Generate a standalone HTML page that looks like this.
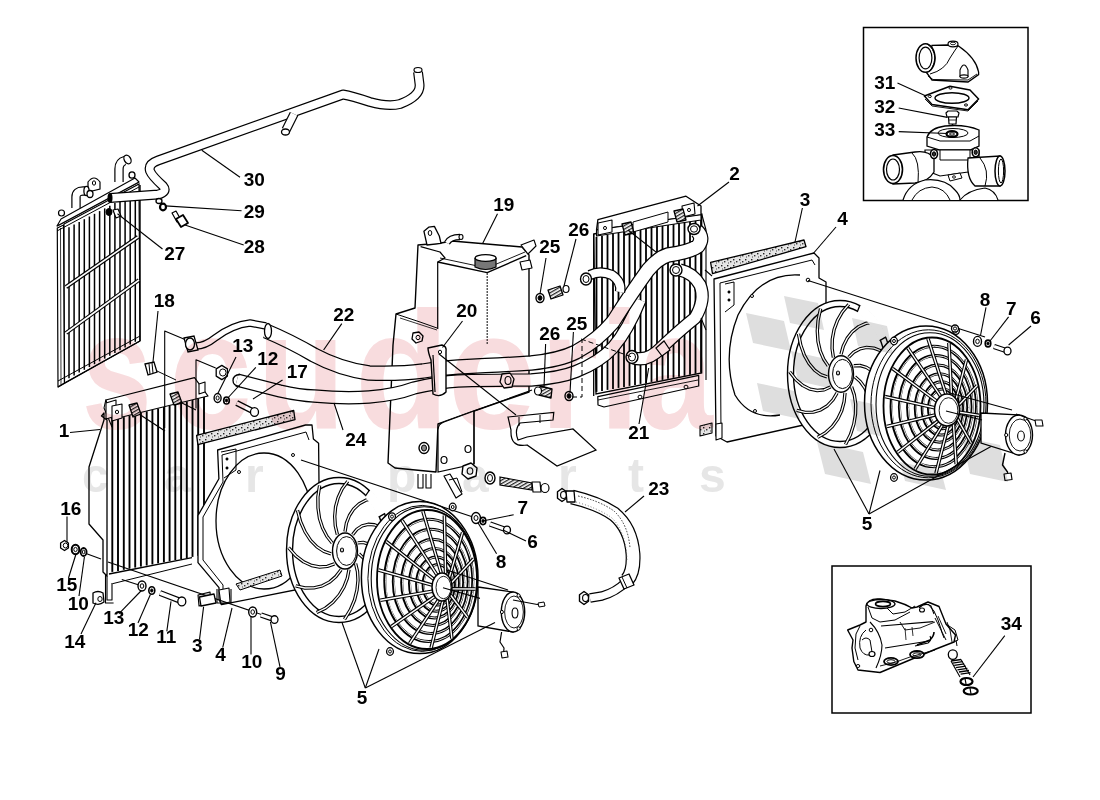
<!DOCTYPE html>
<html><head><meta charset="utf-8"><style>
html,body{margin:0;padding:0;background:#fff;}
#c{position:relative;width:1100px;height:800px;overflow:hidden;background:#fff;}
svg{position:absolute;left:0;top:0;}
.lb text{font-family:"Liberation Sans",sans-serif;font-weight:bold;font-size:19px;fill:#000;}
.wm{mix-blend-mode:multiply;}
.wm text{font-family:"Liberation Sans",sans-serif;font-weight:bold;}
</style></head><body><div id="c">
<svg width="1100" height="800" viewBox="0 0 1100 800">
<polygon points="57.3,228 63.6,225 64.5,383 58,387" fill="#fff" stroke="#000" stroke-width="1.2" stroke-linejoin="round" />
<line x1="60.5" y1="228" x2="61" y2="385" stroke="#000" stroke-width="0.8"/>
<polygon points="64,224 139,184 140,341 64.5,383" fill="#fff" stroke="#000" stroke-width="1.2"/>
<line x1="69.0" y1="227.3" x2="69.0" y2="378.2" stroke="#000" stroke-width="1.5"/>
<line x1="74.1" y1="224.6" x2="74.1" y2="375.4" stroke="#000" stroke-width="1.5"/>
<line x1="79.2" y1="221.9" x2="79.2" y2="372.6" stroke="#000" stroke-width="1.5"/>
<line x1="84.3" y1="219.2" x2="84.3" y2="369.8" stroke="#000" stroke-width="1.5"/>
<line x1="89.4" y1="216.5" x2="89.4" y2="367.0" stroke="#000" stroke-width="1.5"/>
<line x1="94.5" y1="213.8" x2="94.5" y2="364.2" stroke="#000" stroke-width="1.5"/>
<line x1="99.6" y1="211.1" x2="99.6" y2="361.4" stroke="#000" stroke-width="1.5"/>
<line x1="104.7" y1="208.4" x2="104.7" y2="358.6" stroke="#000" stroke-width="1.5"/>
<line x1="109.8" y1="205.7" x2="109.8" y2="355.8" stroke="#000" stroke-width="1.5"/>
<line x1="114.9" y1="203.0" x2="114.9" y2="353.0" stroke="#000" stroke-width="1.5"/>
<line x1="120.0" y1="200.3" x2="120.0" y2="350.2" stroke="#000" stroke-width="1.5"/>
<line x1="125.1" y1="197.6" x2="125.1" y2="347.4" stroke="#000" stroke-width="1.5"/>
<line x1="130.2" y1="194.9" x2="130.2" y2="344.6" stroke="#000" stroke-width="1.5"/>
<line x1="135.3" y1="192.2" x2="135.3" y2="341.8" stroke="#000" stroke-width="1.5"/>
<line x1="140" y1="185" x2="140" y2="341" stroke="#000" stroke-width="1.4"/>
<polyline points="57,226 139,182" fill="none" stroke="#000" stroke-width="1.3" stroke-linejoin="round"/>
<polyline points="57,231 139,187" fill="none" stroke="#000" stroke-width="1.0" stroke-linejoin="round"/>
<polygon points="57,226 61,219 135,178 139,182" fill="#fff" stroke="#000" stroke-width="1.1" stroke-linejoin="round" />
<path d="M 66 287 L 138 237" fill="none" stroke="#000" stroke-width="4.0" stroke-linecap="butt" stroke-linejoin="round" />
<path d="M 66 287 L 138 237" fill="none" stroke="#fff" stroke-width="1.6" stroke-linecap="butt" stroke-linejoin="round"/>
<path d="M 66 333 L 139 280" fill="none" stroke="#000" stroke-width="4.0" stroke-linecap="butt" stroke-linejoin="round" />
<path d="M 66 333 L 139 280" fill="none" stroke="#fff" stroke-width="1.6" stroke-linecap="butt" stroke-linejoin="round"/>
<polyline points="58,387 140,341" fill="none" stroke="#000" stroke-width="1.3" stroke-linejoin="round"/>
<polyline points="58,381 140,336" fill="none" stroke="#000" stroke-width="1.0" stroke-linejoin="round"/>
<path d="M 88 192 L 88 182 Q 94 174 100 182 L 100 189 Z" fill="#fff" stroke="#000" stroke-width="1.2"/>
<ellipse cx="94" cy="183" rx="1.6" ry="2.2" fill="#fff" stroke="#000" stroke-width="1"/>
<path d="M 76 208 L 76 197 Q 76 191 83 191 L 86 191" fill="none" stroke="#000" stroke-width="9.4" stroke-linecap="butt" stroke-linejoin="round" />
<path d="M 76 208 L 76 197 Q 76 191 83 191 L 86 191" fill="none" stroke="#fff" stroke-width="7" stroke-linecap="butt" stroke-linejoin="round"/>
<ellipse cx="86.5" cy="191" rx="2.6" ry="4.6" fill="#fff" stroke="#000" stroke-width="1.3"/>
<ellipse cx="90" cy="194" rx="3" ry="3.5" fill="#fff" stroke="#000" stroke-width="1.3"/>
<path d="M 119 182 L 119 169 Q 119 162 125 160.5" fill="none" stroke="#000" stroke-width="9.4" stroke-linecap="butt" stroke-linejoin="round" />
<path d="M 119 182 L 119 169 Q 119 162 125 160.5" fill="none" stroke="#fff" stroke-width="7" stroke-linecap="butt" stroke-linejoin="round"/>
<ellipse cx="127.5" cy="159.5" rx="3.2" ry="4.6" fill="#fff" stroke="#000" stroke-width="1.3" transform="rotate(-30 127.5 159.5)"/>
<ellipse cx="132" cy="175" rx="3" ry="3.2" fill="#fff" stroke="#000" stroke-width="1.3"/>
<ellipse cx="61.5" cy="213" rx="3" ry="3" fill="#fff" stroke="#000" stroke-width="1.2"/>
<path d="M 418 72 L 419.5 84 Q 421 96 400 104 Q 388 107 370 102 Q 352 96 343 94.5 L 158 160.5 Q 148 164 150 171 Q 152 176 163 186 Q 168 192 158 194.5 L 110 198" fill="none" stroke="#000" stroke-width="9.9" stroke-linecap="butt" stroke-linejoin="round" />
<path d="M 418 72 L 419.5 84 Q 421 96 400 104 Q 388 107 370 102 Q 352 96 343 94.5 L 158 160.5 Q 148 164 150 171 Q 152 176 163 186 Q 168 192 158 194.5 L 110 198" fill="none" stroke="#fff" stroke-width="7.5" stroke-linecap="butt" stroke-linejoin="round"/>
<path d="M 294 114 L 286 130" fill="none" stroke="#000" stroke-width="9.4" stroke-linecap="butt" stroke-linejoin="round" />
<path d="M 294 114 L 286 130" fill="none" stroke="#fff" stroke-width="7" stroke-linecap="butt" stroke-linejoin="round"/>
<ellipse cx="285.5" cy="132" rx="4" ry="3" fill="#fff" stroke="#000" stroke-width="1.3"/>
<ellipse cx="418" cy="70" rx="4" ry="2.5" fill="#fff" stroke="#000" stroke-width="1.2"/>
<ellipse cx="110" cy="198" rx="2.5" ry="5" fill="#000"/>
<ellipse cx="163" cy="207" rx="3" ry="3.3" fill="#fff" stroke="#000" stroke-width="2.2"/>
<ellipse cx="159" cy="201" rx="3" ry="2.5" fill="#fff" stroke="#000" stroke-width="1.3"/>
<polygon points="172,213 176,211 181,220 177,222" fill="#fff" stroke="#000" stroke-width="1.2" stroke-linejoin="round" />
<polygon points="176,219 183,215 188,223 181,227" fill="#fff" stroke="#000" stroke-width="1.8" stroke-linejoin="round" />
<ellipse cx="109" cy="212" rx="3" ry="3.5" fill="#000" stroke="#000" stroke-width="1"/>
<polygon points="113,210 118,209 121,216 116,218" fill="#fff" stroke="#000" stroke-width="1.2" stroke-linejoin="round" />
<polygon points="101.5,416 104,413 104,420 89,467 89,524 103,540 103,572 107,576 107,420" fill="#fff" stroke="#000" stroke-width="1.3" stroke-linejoin="round" />
<polygon points="112,420 208,396 208,554 112,572" fill="#fff" stroke="none"/>
<line x1="112.3" y1="419.9" x2="112.3" y2="571.9" stroke="#000" stroke-width="1.9"/>
<line x1="118.0" y1="418.5" x2="118.0" y2="570.9" stroke="#000" stroke-width="1.9"/>
<line x1="123.8" y1="417.1" x2="123.8" y2="569.8" stroke="#000" stroke-width="1.9"/>
<line x1="129.5" y1="415.6" x2="129.5" y2="568.7" stroke="#000" stroke-width="1.9"/>
<line x1="135.2" y1="414.2" x2="135.2" y2="567.6" stroke="#000" stroke-width="1.9"/>
<line x1="140.9" y1="412.8" x2="140.9" y2="566.6" stroke="#000" stroke-width="1.9"/>
<line x1="146.7" y1="411.3" x2="146.7" y2="565.5" stroke="#000" stroke-width="1.9"/>
<line x1="152.4" y1="409.9" x2="152.4" y2="564.4" stroke="#000" stroke-width="1.9"/>
<line x1="158.1" y1="408.5" x2="158.1" y2="563.3" stroke="#000" stroke-width="1.9"/>
<line x1="163.9" y1="407.0" x2="163.9" y2="562.3" stroke="#000" stroke-width="1.9"/>
<line x1="169.6" y1="405.6" x2="169.6" y2="561.2" stroke="#000" stroke-width="1.9"/>
<line x1="175.3" y1="404.2" x2="175.3" y2="560.1" stroke="#000" stroke-width="1.9"/>
<line x1="181.1" y1="402.7" x2="181.1" y2="559.1" stroke="#000" stroke-width="1.9"/>
<line x1="186.8" y1="401.3" x2="186.8" y2="558.0" stroke="#000" stroke-width="1.9"/>
<line x1="192.5" y1="399.9" x2="192.5" y2="556.9" stroke="#000" stroke-width="1.9"/>
<line x1="198.2" y1="398.4" x2="198.2" y2="555.8" stroke="#000" stroke-width="1.9"/>
<line x1="204.0" y1="397.0" x2="204.0" y2="554.8" stroke="#000" stroke-width="1.9"/>
<polyline points="109,574 192,557.7" fill="none" stroke="#000" stroke-width="1.3" stroke-linejoin="round"/>
<polyline points="112.5,583.7 192,564" fill="none" stroke="#000" stroke-width="1.0" stroke-linejoin="round"/>
<polyline points="107,576 107,600 112,600 112,583" fill="none" stroke="#000" stroke-width="1.1" stroke-linejoin="round"/>
<polygon points="105.8,400 194.5,377.6 208,396 112,419.5" fill="#fff" stroke="#000" stroke-width="1.2" stroke-linejoin="round" />
<polygon points="105.8,400 104,408 112,427 112,419.5" fill="#fff" stroke="#000" stroke-width="1.1" stroke-linejoin="round" />
<line x1="112" y1="419.5" x2="112" y2="427" stroke="#000" stroke-width="1.1"/>
<polygon points="106,403 116,400 116,416 106,419" fill="#fff" stroke="#000" stroke-width="1.1" stroke-linejoin="round" />
<polygon points="112,406 122,404 122,418 112,421" fill="#fff" stroke="#000" stroke-width="1.1" stroke-linejoin="round" />
<ellipse cx="117" cy="412" rx="1.6" ry="1.8" fill="#fff" stroke="#000" stroke-width="1"/>
<polygon points="199,384 205,382 205,392 199,394" fill="#fff" stroke="#000" stroke-width="1.1" stroke-linejoin="round" />
<polygon points="129,405 137,403 141,414 133,417" fill="url(#thr)" stroke="#000" stroke-width="1.3" stroke-linejoin="round" />
<polygon points="170,394 178,392 182,403 174,405" fill="url(#thr)" stroke="#000" stroke-width="1.3" stroke-linejoin="round" />
<line x1="139" y1="414" x2="165" y2="431" stroke="#000" stroke-width="1.2"/>
<line x1="180" y1="402" x2="196" y2="410" stroke="#000" stroke-width="1.2"/>
<defs><pattern id="thr" width="3" height="3" patternUnits="userSpaceOnUse" patternTransform="rotate(-30)"><rect width="3" height="3" fill="#fff"/><rect width="3" height="1.3" fill="#222"/></pattern></defs>
<defs><pattern id="spk" width="6" height="6" patternUnits="userSpaceOnUse"><rect width="6" height="6" fill="#e4e4e4"/><rect x="1" y="1" width="1.4" height="1.4" fill="#222"/><rect x="4" y="3" width="1.4" height="1.4" fill="#333"/><rect x="2" y="4.5" width="1" height="1" fill="#444"/></pattern></defs>
<polygon points="196.6,435.4 293.7,410.5 295,419.7 197.9,444.6" fill="url(#spk)" stroke="#000" stroke-width="1.3" stroke-linejoin="round" />
<polygon points="198,595 210,592 211,603 199,606" fill="#ccc" stroke="#000" stroke-width="1.1" stroke-linejoin="round" />
<polygon points="217.6,450 305.5,425 312,425 313.4,439 318.6,443.3 320,585 221.5,604.7 219,599.5 219,587.7 198,562.7 198,515.5 218.9,478.7" fill="#fff" stroke="#000" stroke-width="1.3" stroke-linejoin="round" />
<polyline points="222,455 306,432 309,440" fill="none" stroke="#000" stroke-width="1.0" stroke-linejoin="round"/>
<polyline points="222,455 223,482 203,517 203,560 223,585 223,598" fill="none" stroke="#000" stroke-width="1.0" stroke-linejoin="round"/>
<ellipse cx="264" cy="521" rx="48" ry="68" fill="#fff" stroke="#000" stroke-width="1.3"/>
<path d="M 221 452 L 236 449 L 236 470 L 224 478" fill="none" stroke="#000" stroke-width="1"/>
<ellipse cx="227" cy="459" rx="1.2" ry="1.2" fill="#000" stroke="#000" stroke-width="0.6"/>
<ellipse cx="227" cy="468" rx="1.2" ry="1.2" fill="#000" stroke="#000" stroke-width="0.6"/>
<ellipse cx="239" cy="472" rx="1.5" ry="1.5" fill="#fff" stroke="#000" stroke-width="1"/>
<ellipse cx="293" cy="455" rx="1.5" ry="1.5" fill="#fff" stroke="#000" stroke-width="1"/>
<polygon points="236,584 280,570 282,576 240,590" fill="url(#spk)" stroke="#000" stroke-width="1" stroke-linejoin="round" />
<polygon points="219,590 229,588 230,602 221,604" fill="#fff" stroke="#000" stroke-width="1.1" stroke-linejoin="round" />
<polygon points="593.7,234 701.7,214 701.7,373 596,394" fill="#fff" stroke="#000" stroke-width="1.3"/>
<line x1="596.5" y1="236.9" x2="596.5" y2="391.9" stroke="#000" stroke-width="1.8"/>
<line x1="602.0" y1="235.9" x2="602.0" y2="390.9" stroke="#000" stroke-width="1.8"/>
<line x1="607.5" y1="234.8" x2="607.5" y2="389.9" stroke="#000" stroke-width="1.8"/>
<line x1="613.0" y1="233.8" x2="613.0" y2="388.9" stroke="#000" stroke-width="1.8"/>
<line x1="618.5" y1="232.8" x2="618.5" y2="387.9" stroke="#000" stroke-width="1.8"/>
<line x1="624.0" y1="231.8" x2="624.0" y2="386.9" stroke="#000" stroke-width="1.8"/>
<line x1="629.5" y1="230.7" x2="629.5" y2="385.9" stroke="#000" stroke-width="1.8"/>
<line x1="635.0" y1="229.7" x2="635.0" y2="384.9" stroke="#000" stroke-width="1.8"/>
<line x1="640.5" y1="228.7" x2="640.5" y2="383.9" stroke="#000" stroke-width="1.8"/>
<line x1="646.0" y1="227.6" x2="646.0" y2="382.9" stroke="#000" stroke-width="1.8"/>
<line x1="651.5" y1="226.6" x2="651.5" y2="381.9" stroke="#000" stroke-width="1.8"/>
<line x1="657.0" y1="225.6" x2="657.0" y2="380.9" stroke="#000" stroke-width="1.8"/>
<line x1="662.5" y1="224.5" x2="662.5" y2="379.9" stroke="#000" stroke-width="1.8"/>
<line x1="668.0" y1="223.5" x2="668.0" y2="378.8" stroke="#000" stroke-width="1.8"/>
<line x1="673.5" y1="222.5" x2="673.5" y2="377.8" stroke="#000" stroke-width="1.8"/>
<line x1="679.0" y1="221.4" x2="679.0" y2="376.8" stroke="#000" stroke-width="1.8"/>
<line x1="684.5" y1="220.4" x2="684.5" y2="375.8" stroke="#000" stroke-width="1.8"/>
<line x1="690.0" y1="219.4" x2="690.0" y2="374.8" stroke="#000" stroke-width="1.8"/>
<line x1="695.5" y1="218.3" x2="695.5" y2="373.8" stroke="#000" stroke-width="1.8"/>
<line x1="701.0" y1="217.3" x2="701.0" y2="372.8" stroke="#000" stroke-width="1.8"/>
<polyline points="593.7,234 593.7,396" fill="none" stroke="#000" stroke-width="1.3" stroke-linejoin="round"/>
<polygon points="597.8,396.6 698.7,375.4 698.7,386 604,407 598,405" fill="#fff" stroke="#000" stroke-width="1.2" stroke-linejoin="round" />
<polyline points="598,400 698,380" fill="none" stroke="#000" stroke-width="0.9" stroke-linejoin="round"/>
<ellipse cx="640" cy="397" rx="2" ry="1.8" fill="#fff" stroke="#000" stroke-width="1"/>
<ellipse cx="686" cy="387" rx="2" ry="1.8" fill="#fff" stroke="#000" stroke-width="1"/>
<polygon points="597.9,219.6 686,196.2 701,206 701,214.8 596.5,230" fill="#fff" stroke="#000" stroke-width="1.3" stroke-linejoin="round" />
<polygon points="596.5,230 596.5,236 701,220 701,214.8" fill="#fff" stroke="#000" stroke-width="1.1" stroke-linejoin="round" />
<polygon points="633,222 668,212 668,222 633,232" fill="#fff" stroke="#000" stroke-width="1.0" stroke-linejoin="round" />
<polygon points="598,223 612,220 612,232 598,235" fill="#fff" stroke="#000" stroke-width="1.1" stroke-linejoin="round" />
<ellipse cx="605" cy="228" rx="1.5" ry="1.6" fill="#fff" stroke="#000" stroke-width="1"/>
<polygon points="682,206 694,203 695,214 683,217" fill="#fff" stroke="#000" stroke-width="1.1" stroke-linejoin="round" />
<ellipse cx="689" cy="210" rx="1.5" ry="1.6" fill="#fff" stroke="#000" stroke-width="1"/>
<polygon points="622,224 631,222 634,233 625,235" fill="url(#thr)" stroke="#000" stroke-width="1.3" stroke-linejoin="round" />
<polygon points="674,211 683,209 686,220 677,222" fill="url(#thr)" stroke="#000" stroke-width="1.3" stroke-linejoin="round" />
<line x1="628" y1="230" x2="668" y2="261.5" stroke="#000" stroke-width="1.1"/>
<polyline points="701.7,214 706,230 706,380" fill="none" stroke="#000" stroke-width="1.1" stroke-linejoin="round"/>
<polygon points="418,245 415,308 396,314 393,345 388,463 395,468 436,472 438,424 474,411 529,392 529,255 522,247 452,241 441,243" fill="#fff" stroke="#000" stroke-width="1.4" stroke-linejoin="round" />
<polygon points="423.9,231.2 428.7,227.2 434.4,226.4 439.3,236 441,243.4 427,245" fill="#fff" stroke="#000" stroke-width="1.3" stroke-linejoin="round" />
<ellipse cx="430" cy="233" rx="1.8" ry="2.5" fill="#fff" stroke="#000" stroke-width="1"/>
<polyline points="420.6,246.7 440,252 445,258 437.7,262 437.7,329" fill="none" stroke="#000" stroke-width="1.2" stroke-linejoin="round"/>
<polyline points="437.7,262 487.2,272.7 526.2,255.6" fill="none" stroke="#000" stroke-width="1.3" stroke-linejoin="round"/>
<polyline points="440,258 487,268 525,252" fill="none" stroke="#000" stroke-width="0.9" stroke-linejoin="round"/>
<line x1="487.2" y1="273" x2="487.2" y2="345" stroke="#333" stroke-width="1.2" stroke-dasharray="2,1"/>
<path d="M 475 258 L 475 267 Q 485.6 272 496 267 L 496 258" fill="#777" stroke="#000" stroke-width="1.2"/>
<ellipse cx="485.6" cy="258" rx="10.5" ry="3.4" fill="#fff" stroke="#000" stroke-width="1.3"/>
<path d="M 447 243 Q 450 237 460 237" fill="none" stroke="#000" stroke-width="6.4" stroke-linecap="butt" stroke-linejoin="round" />
<path d="M 447 243 Q 450 237 460 237" fill="none" stroke="#fff" stroke-width="4" stroke-linecap="butt" stroke-linejoin="round"/>
<ellipse cx="461" cy="237" rx="2" ry="2.5" fill="#fff" stroke="#000" stroke-width="1.1"/>
<polygon points="520,262 530,260 532,268 522,270" fill="#fff" stroke="#000" stroke-width="1.1" stroke-linejoin="round" />
<polygon points="521,245 534,240 536,246 528,254" fill="#fff" stroke="#000" stroke-width="1.1" stroke-linejoin="round" />
<polyline points="396,314 420,322 437,328" fill="none" stroke="#000" stroke-width="1.0" stroke-linejoin="round"/>
<polyline points="400,318 437,330" fill="none" stroke="#000" stroke-width="0.8" stroke-linejoin="round"/>
<path d="M 438 472 L 438 430 Q 438 424 444 422 L 474 411 L 474 464 Z" fill="#fff" stroke="#000" stroke-width="1.2"/>
<line x1="474" y1="411" x2="474" y2="464" stroke="#000" stroke-width="1.2"/>
<polyline points="474,411 532,390" fill="none" stroke="#000" stroke-width="1.1" stroke-linejoin="round"/>
<ellipse cx="424" cy="448" rx="5" ry="5.5" fill="#fff" stroke="#000" stroke-width="1.4"/>
<ellipse cx="424" cy="448" rx="2.5" ry="3" fill="#888" stroke="#000" stroke-width="1"/>
<ellipse cx="468" cy="449" rx="3" ry="3.5" fill="#fff" stroke="#000" stroke-width="1.2"/>
<ellipse cx="444" cy="460" rx="3" ry="3.5" fill="#fff" stroke="#000" stroke-width="1.2"/>
<polygon points="413,333 419,332 423,336 422,341 416,343 412,339" fill="#fff" stroke="#000" stroke-width="1.3" stroke-linejoin="round" />
<ellipse cx="418" cy="337.5" rx="2" ry="2.2" fill="#fff" stroke="#000" stroke-width="1"/>
<polyline points="418,474 418,488 423,488 423,474" fill="none" stroke="#000" stroke-width="1.1" stroke-linejoin="round"/>
<polyline points="426,474 426,488 431,488 431,474" fill="none" stroke="#000" stroke-width="1.1" stroke-linejoin="round"/>
<polygon points="444,476 450,474 462,494 456,498" fill="#fff" stroke="#000" stroke-width="1.2" stroke-linejoin="round" />
<polyline points="449,480 457,478 462,492" fill="none" stroke="#000" stroke-width="1" stroke-linejoin="round"/>
<polygon points="463,466 471,463 477,468 476,476 468,479 462,474" fill="#fff" stroke="#000" stroke-width="1.4" stroke-linejoin="round" />
<ellipse cx="470" cy="471" rx="2.8" ry="3.3" fill="#fff" stroke="#000" stroke-width="1.1"/>
<ellipse cx="490" cy="478" rx="5" ry="6" fill="#fff" stroke="#000" stroke-width="1.4"/>
<ellipse cx="490" cy="478" rx="2.5" ry="3.5" fill="#fff" stroke="#000" stroke-width="1"/>
<polygon points="500,477 532,483 532,490 500,485" fill="url(#thr)" stroke="#000" stroke-width="1.2"/>
<polygon points="532,482 540,482 541,492 533,492" fill="#fff" stroke="#000" stroke-width="1.2" stroke-linejoin="round" />
<ellipse cx="545" cy="488" rx="4" ry="4.5" fill="#fff" stroke="#000" stroke-width="1.2"/>
<path d="M 237 380 L 280 391 Q 300 395.5 314 396 Q 345 399 369 397 Q 395 395 414 388 Q 440 382 458 381 Q 500 380 531 380 Q 560 378 576 371.5 Q 600 362 613 347.5 Q 628 330 640 300" fill="none" stroke="#000" stroke-width="13.4" stroke-linecap="butt" stroke-linejoin="round" />
<path d="M 237 380 L 280 391 Q 300 395.5 314 396 Q 345 399 369 397 Q 395 395 414 388 Q 440 382 458 381 Q 500 380 531 380 Q 560 378 576 371.5 Q 600 362 613 347.5 Q 628 330 640 300" fill="none" stroke="#fff" stroke-width="11" stroke-linecap="butt" stroke-linejoin="round"/>
<path d="M 240 374.5 Q 233 375 233 380.5 Q 233 386 240 386.5" fill="none" stroke="#000" stroke-width="1.3"/>
<path d="M 196 346 Q 205 346 215 338 Q 232 325 250 323 L 266 326" fill="none" stroke="#000" stroke-width="7.4" stroke-linecap="butt" stroke-linejoin="round" />
<path d="M 196 346 Q 205 346 215 338 Q 232 325 250 323 L 266 326" fill="none" stroke="#fff" stroke-width="5" stroke-linecap="butt" stroke-linejoin="round"/>
<polygon points="184,338 194,336 198,350 188,352" fill="#fff" stroke="#000" stroke-width="1.3"/>
<ellipse cx="190" cy="344" rx="4.5" ry="6" fill="#fff" stroke="#000" stroke-width="1.3"/>
<path d="M 266 331 Q 290 341 314 355 Q 340 369 369 373 Q 400 374 423 371 Q 440 368 458 367 Q 500 365 531 363 Q 560 360 576 352 Q 598 340 613 322 Q 632 292 648 270 Q 658 258 668 255 Q 690 252 698 246 Q 704 238 697 231" fill="none" stroke="#000" stroke-width="15.4" stroke-linecap="butt" stroke-linejoin="round" />
<path d="M 266 331 Q 290 341 314 355 Q 340 369 369 373 Q 400 374 423 371 Q 440 368 458 367 Q 500 365 531 363 Q 560 360 576 352 Q 598 340 613 322 Q 632 292 648 270 Q 658 258 668 255 Q 690 252 698 246 Q 704 238 697 231" fill="none" stroke="#fff" stroke-width="13" stroke-linecap="butt" stroke-linejoin="round"/>
<ellipse cx="268" cy="331" rx="3.5" ry="7.5" fill="#fff" stroke="#000" stroke-width="1.3"/>
<ellipse cx="694" cy="229" rx="6" ry="5.5" fill="#fff" stroke="#000" stroke-width="1.4"/>
<ellipse cx="694" cy="229" rx="3.5" ry="3.2" fill="#fff" stroke="#000" stroke-width="1.0"/>
<path d="M 634 358 Q 648 362 662 347 Q 680 330 695 318 Q 706 300 700 285 Q 693 273 680 270" fill="none" stroke="#000" stroke-width="13.4" stroke-linecap="butt" stroke-linejoin="round" />
<path d="M 634 358 Q 648 362 662 347 Q 680 330 695 318 Q 706 300 700 285 Q 693 273 680 270" fill="none" stroke="#fff" stroke-width="11" stroke-linecap="butt" stroke-linejoin="round"/>
<ellipse cx="632" cy="357" rx="6" ry="6.5" fill="#fff" stroke="#000" stroke-width="1.4"/>
<ellipse cx="632" cy="357" rx="3.5" ry="4" fill="#fff" stroke="#000" stroke-width="1.0"/>
<ellipse cx="676" cy="270" rx="6" ry="6" fill="#fff" stroke="#000" stroke-width="1.4"/>
<ellipse cx="676" cy="270" rx="3.5" ry="3.5" fill="#fff" stroke="#000" stroke-width="1.0"/>
<polygon points="656,348 664,341 670,350 662,356" fill="#fff" stroke="#000" stroke-width="1.2"/>
<path d="M 590 275 Q 600 270 612 275 Q 622 282 620 292" fill="none" stroke="#000" stroke-width="10.4" stroke-linecap="butt" stroke-linejoin="round" />
<path d="M 590 275 Q 600 270 612 275 Q 622 282 620 292" fill="none" stroke="#fff" stroke-width="8" stroke-linecap="butt" stroke-linejoin="round"/>
<ellipse cx="586" cy="279" rx="5.5" ry="6" fill="#fff" stroke="#000" stroke-width="1.4"/>
<ellipse cx="586" cy="279" rx="3" ry="3.5" fill="#fff" stroke="#000" stroke-width="1.0"/>
<polygon points="502,374 510,373 514,379 512,387 504,388 500,382" fill="#fff" stroke="#000" stroke-width="1.3" stroke-linejoin="round" />
<ellipse cx="508" cy="380.5" rx="3" ry="4" fill="#fff" stroke="#000" stroke-width="1.1"/>
<path d="M 428 348 L 442 345 Q 447 346 446 352 L 446 392 Q 440 398 433 394 L 431 360 Q 428 352 428 348 Z" fill="#fff" stroke="#000" stroke-width="1.4"/>
<line x1="433" y1="355" x2="435" y2="392" stroke="#000" stroke-width="1.2"/>
<ellipse cx="440" cy="352" rx="1.6" ry="1.8" fill="#fff" stroke="#000" stroke-width="1"/>
<path d="M 508 417 L 553.8 412.5 L 553 420 L 520 423 Q 514 430 518 440 L 527 437 L 573 429 L 596 450 L 557 466 L 527 445 Q 510 448 511 430 Z" fill="#fff" stroke="#000" stroke-width="1.2"/>
<polyline points="519,417 519,426" fill="none" stroke="#000" stroke-width="1" stroke-linejoin="round"/>
<polyline points="540,415 540,423" fill="none" stroke="#000" stroke-width="1" stroke-linejoin="round"/>
<ellipse cx="540" cy="298" rx="4" ry="4.5" fill="#fff" stroke="#000" stroke-width="1.4"/>
<ellipse cx="540" cy="298" rx="2" ry="2.3" fill="#000" stroke="#000" stroke-width="1"/>
<polygon points="548,290 560,286 563,295 551,299" fill="url(#thr)" stroke="#000" stroke-width="1.3" stroke-linejoin="round" />
<ellipse cx="566" cy="289" rx="3" ry="3.5" fill="#fff" stroke="#000" stroke-width="1.2"/>
<ellipse cx="569" cy="396" rx="4" ry="4.5" fill="#fff" stroke="#000" stroke-width="1.4"/>
<ellipse cx="569" cy="396" rx="2" ry="2.3" fill="#000" stroke="#000" stroke-width="1"/>
<polygon points="540,386 552,389 551,398 539,395" fill="url(#thr)" stroke="#000" stroke-width="1.3" stroke-linejoin="round" />
<ellipse cx="538" cy="391" rx="3.5" ry="4" fill="#fff" stroke="#000" stroke-width="1.2"/>
<path d="M 572 397 L 582 397 L 582 340" fill="none" stroke="#000" stroke-width="1" stroke-dasharray="5,3"/>
<path d="M 581 339 L 632 357" fill="none" stroke="#000" stroke-width="1" stroke-dasharray="5,3"/>
<polygon points="710.6,262.4 804,240 806,246.7 712.5,273.7" fill="url(#spk)" stroke="#000" stroke-width="1.3" stroke-linejoin="round" />
<polygon points="714,279 814,253 819,258 819,278 826,282 826,420 727,442 716,436" fill="#fff" stroke="#000" stroke-width="1.3" stroke-linejoin="round" />
<polyline points="720,283 812,260 815,265" fill="none" stroke="#000" stroke-width="1.0" stroke-linejoin="round"/>
<polyline points="720,283 721,434" fill="none" stroke="#000" stroke-width="1.0" stroke-linejoin="round"/>
<path d="M 800 275 Q 760 272 738 315 Q 722 355 735 395 Q 750 420 780 415" fill="none" stroke="#000" stroke-width="1.3"/>
<path d="M 725 284 L 734 282 L 734 305 L 725 312" fill="none" stroke="#000" stroke-width="1"/>
<ellipse cx="729" cy="292" rx="1.2" ry="1.2" fill="#000" stroke="#000" stroke-width="0.6"/>
<ellipse cx="729" cy="300" rx="1.2" ry="1.2" fill="#000" stroke="#000" stroke-width="0.6"/>
<ellipse cx="752" cy="296" rx="1.5" ry="1.5" fill="#fff" stroke="#000" stroke-width="1"/>
<ellipse cx="808" cy="280" rx="1.8" ry="1.8" fill="#fff" stroke="#000" stroke-width="1"/>
<ellipse cx="755" cy="411" rx="1.5" ry="1.5" fill="#fff" stroke="#000" stroke-width="1"/>
<polygon points="700,426 712,423 712,433 700,436" fill="url(#spk)" stroke="#000" stroke-width="1.1" stroke-linejoin="round" />
<polygon points="716,424 722,423 722,438 716,440" fill="#fff" stroke="#000" stroke-width="1.1" stroke-linejoin="round" />
<line x1="701" y1="318" x2="706" y2="330" stroke="#000" stroke-width="1.1"/>
<line x1="705" y1="270" x2="712" y2="276" stroke="#000" stroke-width="1.1"/>
<line x1="301" y1="460" x2="476" y2="518" stroke="#000" stroke-width="1.1"/>
<ellipse cx="339" cy="550" rx="52" ry="72" fill="#fff"/>
<ellipse cx="339" cy="550" rx="49.5" ry="69.5" fill="none" stroke="#000" stroke-width="7.4"/>
<ellipse cx="339" cy="550" rx="49.5" ry="69.5" fill="none" stroke="#fff" stroke-width="4.6"/>
<path d="M 358.9 553.7 L 363.4 558.1 L 367.2 564.4 L 370.1 572.5 L 371.7 582.0 L 372.0 592.7 L 370.8 604.3" fill="none" stroke="#000" stroke-width="3.4" stroke-linejoin="round"/>
<path d="M 358.9 553.7 L 363.4 558.1 L 367.2 564.4 L 370.1 572.5 L 371.7 582.0 L 372.0 592.7 L 370.8 604.3" fill="none" stroke="#fff" stroke-width="1.3" stroke-linejoin="round"/>
<path d="M 355.6 563.7 L 357.5 571.5 L 358.0 580.4 L 357.0 590.0 L 354.5 600.0 L 350.3 609.9 L 344.5 619.4" fill="none" stroke="#000" stroke-width="3.4" stroke-linejoin="round"/>
<path d="M 355.6 563.7 L 357.5 571.5 L 358.0 580.4 L 357.0 590.0 L 354.5 600.0 L 350.3 609.9 L 344.5 619.4" fill="none" stroke="#fff" stroke-width="1.3" stroke-linejoin="round"/>
<path d="M 349.0 569.6 L 347.3 578.3 L 344.0 586.9 L 339.2 595.0 L 333.0 602.2 L 325.4 608.2 L 316.6 612.5" fill="none" stroke="#000" stroke-width="3.4" stroke-linejoin="round"/>
<path d="M 349.0 569.6 L 347.3 578.3 L 344.0 586.9 L 339.2 595.0 L 333.0 602.2 L 325.4 608.2 L 316.6 612.5" fill="none" stroke="#fff" stroke-width="1.3" stroke-linejoin="round"/>
<path d="M 341.1 569.7 L 336.0 576.4 L 329.7 581.9 L 322.3 585.8 L 314.0 587.9 L 305.0 588.0 L 295.7 585.8" fill="none" stroke="#000" stroke-width="3.4" stroke-linejoin="round"/>
<path d="M 341.1 569.7 L 336.0 576.4 L 329.7 581.9 L 322.3 585.8 L 314.0 587.9 L 305.0 588.0 L 295.7 585.8" fill="none" stroke="#fff" stroke-width="1.3" stroke-linejoin="round"/>
<path d="M 334.4 563.8 L 327.3 566.4 L 319.6 567.0 L 311.6 565.5 L 303.6 561.8 L 295.8 555.8 L 288.6 547.7" fill="none" stroke="#000" stroke-width="3.4" stroke-linejoin="round"/>
<path d="M 334.4 563.8 L 327.3 566.4 L 319.6 567.0 L 311.6 565.5 L 303.6 561.8 L 295.8 555.8 L 288.6 547.7" fill="none" stroke="#fff" stroke-width="1.3" stroke-linejoin="round"/>
<path d="M 331.1 553.8 L 323.9 551.4 L 317.0 546.9 L 310.6 540.4 L 305.1 531.9 L 300.6 521.8 L 297.5 510.3" fill="none" stroke="#000" stroke-width="3.4" stroke-linejoin="round"/>
<path d="M 331.1 553.8 L 323.9 551.4 L 317.0 546.9 L 310.6 540.4 L 305.1 531.9 L 300.6 521.8 L 297.5 510.3" fill="none" stroke="#fff" stroke-width="1.3" stroke-linejoin="round"/>
<path d="M 332.2 543.0 L 326.9 536.3 L 322.6 528.0 L 319.5 518.5 L 318.0 508.0 L 317.9 496.9 L 319.6 485.6" fill="none" stroke="#000" stroke-width="3.4" stroke-linejoin="round"/>
<path d="M 332.2 543.0 L 326.9 536.3 L 322.6 528.0 L 319.5 518.5 L 318.0 508.0 L 317.9 496.9 L 319.6 485.6" fill="none" stroke="#fff" stroke-width="1.3" stroke-linejoin="round"/>
<path d="M 337.4 534.7 L 335.3 525.8 L 334.7 516.3 L 335.6 506.7 L 338.2 497.4 L 342.2 488.8 L 347.8 481.2" fill="none" stroke="#000" stroke-width="3.4" stroke-linejoin="round"/>
<path d="M 337.4 534.7 L 335.3 525.8 L 334.7 516.3 L 335.6 506.7 L 338.2 497.4 L 342.2 488.8 L 347.8 481.2" fill="none" stroke="#fff" stroke-width="1.3" stroke-linejoin="round"/>
<path d="M 345.0 531.6 L 346.4 523.2 L 349.4 515.5 L 353.7 508.9 L 359.3 503.7 L 365.8 500.2 L 373.3 498.7" fill="none" stroke="#000" stroke-width="3.4" stroke-linejoin="round"/>
<path d="M 345.0 531.6 L 346.4 523.2 L 349.4 515.5 L 353.7 508.9 L 359.3 503.7 L 365.8 500.2 L 373.3 498.7" fill="none" stroke="#fff" stroke-width="1.3" stroke-linejoin="round"/>
<path d="M 352.6 534.6 L 356.8 529.4 L 362.1 525.9 L 368.1 524.3 L 374.6 524.8 L 381.2 527.5 L 387.8 532.5" fill="none" stroke="#000" stroke-width="3.4" stroke-linejoin="round"/>
<path d="M 352.6 534.6 L 356.8 529.4 L 362.1 525.9 L 368.1 524.3 L 374.6 524.8 L 381.2 527.5 L 387.8 532.5" fill="none" stroke="#fff" stroke-width="1.3" stroke-linejoin="round"/>
<path d="M 357.8 542.9 L 363.2 542.4 L 368.7 544.1 L 374.2 548.0 L 379.2 554.0 L 383.5 562.0 L 386.9 571.9" fill="none" stroke="#000" stroke-width="3.4" stroke-linejoin="round"/>
<path d="M 357.8 542.9 L 363.2 542.4 L 368.7 544.1 L 374.2 548.0 L 379.2 554.0 L 383.5 562.0 L 386.9 571.9" fill="none" stroke="#fff" stroke-width="1.3" stroke-linejoin="round"/>
<path d="M 367.4 493.1 L 369.6 495.3 L 371.6 497.7 L 373.6 500.3 L 375.5 503.0 L 377.3 505.9 L 378.9 508.9 L 380.5 512.0 L 381.9 515.2" fill="none" stroke="#fff" stroke-width="9"/>
<line x1="369.5" y1="490.0" x2="365.3" y2="496.1" stroke="#000" stroke-width="1.3"/>
<line x1="385.1" y1="513.4" x2="378.7" y2="517.1" stroke="#000" stroke-width="1.3"/>
<ellipse cx="345" cy="551" rx="12.48" ry="18.0" fill="#fff" stroke="#000" stroke-width="1.4"/>
<ellipse cx="346.5" cy="551" rx="9.88" ry="14.4" fill="#fff" stroke="#000" stroke-width="1.0"/>
<ellipse cx="342" cy="550" rx="1.5" ry="2" fill="#fff" stroke="#000" stroke-width="1.2"/>
<ellipse cx="419.7" cy="577.6" rx="58.3" ry="76" fill="#fff" stroke="#000" stroke-width="1.5"/>
<ellipse cx="422.2" cy="578.4" rx="54.3" ry="73" fill="#fff" stroke="#000" stroke-width="1.0"/>
<ellipse cx="424.35" cy="578.55" rx="53.15" ry="71.75" fill="#fff" stroke="#000" stroke-width="1.1"/>
<ellipse cx="427" cy="579.5" rx="50" ry="69.5" fill="#fff" stroke="#000" stroke-width="1.8"/>
<ellipse cx="428.8" cy="580.4" rx="44.0" ry="61.2" fill="none" stroke="#000" stroke-width="3.0"/>
<ellipse cx="429.6" cy="580.4" rx="44.0" ry="61.2" fill="none" stroke="#fff" stroke-width="0.9"/>
<ellipse cx="430.8" cy="581.4" rx="37.5" ry="52.1" fill="none" stroke="#000" stroke-width="3.0"/>
<ellipse cx="431.6" cy="581.4" rx="37.5" ry="52.1" fill="none" stroke="#fff" stroke-width="0.9"/>
<ellipse cx="432.7" cy="582.4" rx="31.0" ry="43.1" fill="none" stroke="#000" stroke-width="3.0"/>
<ellipse cx="433.5" cy="582.4" rx="31.0" ry="43.1" fill="none" stroke="#fff" stroke-width="0.9"/>
<ellipse cx="434.5" cy="583.2" rx="25.0" ry="34.8" fill="none" stroke="#000" stroke-width="3.0"/>
<ellipse cx="435.3" cy="583.2" rx="25.0" ry="34.8" fill="none" stroke="#fff" stroke-width="0.9"/>
<ellipse cx="436.1" cy="584.1" rx="19.5" ry="27.1" fill="none" stroke="#000" stroke-width="3.0"/>
<ellipse cx="436.9" cy="584.1" rx="19.5" ry="27.1" fill="none" stroke="#fff" stroke-width="0.9"/>
<ellipse cx="437.6" cy="584.8" rx="14.5" ry="20.2" fill="none" stroke="#000" stroke-width="3.0"/>
<ellipse cx="438.4" cy="584.8" rx="14.5" ry="20.2" fill="none" stroke="#fff" stroke-width="0.9"/>
<line x1="451.9" y1="588.9" x2="475.5" y2="589.0" stroke="#000" stroke-width="3.6"/>
<line x1="451.9" y1="588.9" x2="475.5" y2="589.0" stroke="#fff" stroke-width="1.4"/>
<line x1="450.3" y1="594.8" x2="467.8" y2="617.5" stroke="#000" stroke-width="3.6"/>
<line x1="450.3" y1="594.8" x2="467.8" y2="617.5" stroke="#fff" stroke-width="1.4"/>
<line x1="447.1" y1="599.1" x2="451.9" y2="638.5" stroke="#000" stroke-width="3.6"/>
<line x1="447.1" y1="599.1" x2="451.9" y2="638.5" stroke="#fff" stroke-width="1.4"/>
<line x1="442.8" y1="600.9" x2="431.1" y2="647.8" stroke="#000" stroke-width="3.6"/>
<line x1="442.8" y1="600.9" x2="431.1" y2="647.8" stroke="#fff" stroke-width="1.4"/>
<line x1="438.4" y1="600.1" x2="409.6" y2="643.5" stroke="#000" stroke-width="3.6"/>
<line x1="438.4" y1="600.1" x2="409.6" y2="643.5" stroke="#fff" stroke-width="1.4"/>
<line x1="434.7" y1="596.6" x2="391.4" y2="626.6" stroke="#000" stroke-width="3.6"/>
<line x1="434.7" y1="596.6" x2="391.4" y2="626.6" stroke="#fff" stroke-width="1.4"/>
<line x1="432.5" y1="591.3" x2="380.3" y2="600.3" stroke="#000" stroke-width="3.6"/>
<line x1="432.5" y1="591.3" x2="380.3" y2="600.3" stroke="#fff" stroke-width="1.4"/>
<line x1="432.1" y1="585.1" x2="378.5" y2="570.0" stroke="#000" stroke-width="3.6"/>
<line x1="432.1" y1="585.1" x2="378.5" y2="570.0" stroke="#fff" stroke-width="1.4"/>
<line x1="433.7" y1="579.2" x2="386.2" y2="541.5" stroke="#000" stroke-width="3.6"/>
<line x1="433.7" y1="579.2" x2="386.2" y2="541.5" stroke="#fff" stroke-width="1.4"/>
<line x1="436.9" y1="574.9" x2="402.1" y2="520.5" stroke="#000" stroke-width="3.6"/>
<line x1="436.9" y1="574.9" x2="402.1" y2="520.5" stroke="#fff" stroke-width="1.4"/>
<line x1="441.2" y1="573.1" x2="422.9" y2="511.2" stroke="#000" stroke-width="3.6"/>
<line x1="441.2" y1="573.1" x2="422.9" y2="511.2" stroke="#fff" stroke-width="1.4"/>
<line x1="445.6" y1="573.9" x2="444.4" y2="515.5" stroke="#000" stroke-width="3.6"/>
<line x1="445.6" y1="573.9" x2="444.4" y2="515.5" stroke="#fff" stroke-width="1.4"/>
<line x1="449.3" y1="577.4" x2="462.6" y2="532.4" stroke="#000" stroke-width="3.6"/>
<line x1="449.3" y1="577.4" x2="462.6" y2="532.4" stroke="#fff" stroke-width="1.4"/>
<line x1="451.5" y1="582.7" x2="473.7" y2="558.7" stroke="#000" stroke-width="3.6"/>
<line x1="451.5" y1="582.7" x2="473.7" y2="558.7" stroke="#fff" stroke-width="1.4"/>
<ellipse cx="442" cy="587" rx="10" ry="14" fill="#fff" stroke="#000" stroke-width="1.5"/>
<ellipse cx="443.5" cy="587.5" rx="7.5" ry="11.200000000000001" fill="#fff" stroke="#000" stroke-width="0.9"/>
<ellipse cx="392" cy="516.6" rx="3.4" ry="3.8" fill="#fff" stroke="#000" stroke-width="1.3"/>
<ellipse cx="392" cy="516.6" rx="1.4" ry="1.6" fill="#fff" stroke="#000" stroke-width="1.0"/>
<ellipse cx="452.7" cy="507" rx="3.4" ry="3.8" fill="#fff" stroke="#000" stroke-width="1.3"/>
<ellipse cx="452.7" cy="507" rx="1.4" ry="1.6" fill="#fff" stroke="#000" stroke-width="1.0"/>
<ellipse cx="390" cy="651.5" rx="3.4" ry="3.8" fill="#fff" stroke="#000" stroke-width="1.3"/>
<ellipse cx="390" cy="651.5" rx="1.4" ry="1.6" fill="#fff" stroke="#000" stroke-width="1.0"/>
<path d="M 478 587 L 513 592 L 513 632 L 478 626 Z" fill="#fff" stroke="#000" stroke-width="1.3"/>
<ellipse cx="513" cy="612" rx="11.7" ry="20" fill="#fff" stroke="#000" stroke-width="1.4"/>
<ellipse cx="514" cy="612" rx="9.36" ry="16.0" fill="#fff" stroke="#000" stroke-width="0.9"/>
<ellipse cx="515" cy="613" rx="2.925" ry="5.0" fill="#fff" stroke="#000" stroke-width="1.1"/>
<ellipse cx="518.5575" cy="595.5455173280957" rx="1.5" ry="1.7" fill="#fff" stroke="#000" stroke-width="1"/>
<ellipse cx="518.5575" cy="628.4544826719043" rx="1.5" ry="1.7" fill="#fff" stroke="#000" stroke-width="1"/>
<ellipse cx="501.885" cy="612.0" rx="1.5" ry="1.7" fill="#fff" stroke="#000" stroke-width="1"/>
<polyline points="501.6,632 500,642 504,648 503.7,652" fill="none" stroke="#000" stroke-width="1.2" stroke-linejoin="round"/>
<polygon points="501,652 507,651 508,657 502,658" fill="#fff" stroke="#000" stroke-width="1.1" stroke-linejoin="round" />
<line x1="443" y1="587.7" x2="480" y2="598.4" stroke="#000" stroke-width="1.1"/>
<line x1="446" y1="569.7" x2="508" y2="590" stroke="#000" stroke-width="1.1"/>
<line x1="513" y1="600" x2="540" y2="605" stroke="#000" stroke-width="1.1"/>
<polygon points="538,603 544,602 545,606 539,607" fill="#fff" stroke="#000" stroke-width="1" stroke-linejoin="round" />
<line x1="808" y1="280.5" x2="985" y2="337" stroke="#000" stroke-width="1.1"/>
<ellipse cx="840" cy="374" rx="52" ry="73" fill="#fff"/>
<ellipse cx="840" cy="374" rx="49.5" ry="70.5" fill="none" stroke="#000" stroke-width="7.4"/>
<ellipse cx="840" cy="374" rx="49.5" ry="70.5" fill="none" stroke="#fff" stroke-width="4.6"/>
<path d="M 854.9 376.7 L 860.2 381.4 L 864.9 388.0 L 868.6 396.3 L 871.1 406.1 L 872.2 417.1 L 871.8 429.0" fill="none" stroke="#000" stroke-width="3.4" stroke-linejoin="round"/>
<path d="M 854.9 376.7 L 860.2 381.4 L 864.9 388.0 L 868.6 396.3 L 871.1 406.1 L 872.2 417.1 L 871.8 429.0" fill="none" stroke="#fff" stroke-width="1.3" stroke-linejoin="round"/>
<path d="M 851.6 386.9 L 854.3 394.9 L 855.7 404.1 L 855.5 414.0 L 853.8 424.3 L 850.5 434.6 L 845.5 444.4" fill="none" stroke="#000" stroke-width="3.4" stroke-linejoin="round"/>
<path d="M 851.6 386.9 L 854.3 394.9 L 855.7 404.1 L 855.5 414.0 L 853.8 424.3 L 850.5 434.6 L 845.5 444.4" fill="none" stroke="#fff" stroke-width="1.3" stroke-linejoin="round"/>
<path d="M 845.0 392.9 L 844.1 401.8 L 841.7 410.7 L 837.7 419.1 L 832.3 426.6 L 825.5 432.8 L 817.6 437.4" fill="none" stroke="#000" stroke-width="3.4" stroke-linejoin="round"/>
<path d="M 845.0 392.9 L 844.1 401.8 L 841.7 410.7 L 837.7 419.1 L 832.3 426.6 L 825.5 432.8 L 817.6 437.4" fill="none" stroke="#fff" stroke-width="1.3" stroke-linejoin="round"/>
<path d="M 837.1 392.9 L 832.9 399.9 L 827.4 405.7 L 820.8 409.8 L 813.3 412.1 L 805.2 412.4 L 796.7 410.3" fill="none" stroke="#000" stroke-width="3.4" stroke-linejoin="round"/>
<path d="M 837.1 392.9 L 832.9 399.9 L 827.4 405.7 L 820.8 409.8 L 813.3 412.1 L 805.2 412.4 L 796.7 410.3" fill="none" stroke="#fff" stroke-width="1.3" stroke-linejoin="round"/>
<path d="M 830.4 387.0 L 824.2 389.8 L 817.3 390.5 L 810.1 389.2 L 802.9 385.6 L 796.0 379.7 L 789.6 371.7" fill="none" stroke="#000" stroke-width="3.4" stroke-linejoin="round"/>
<path d="M 830.4 387.0 L 824.2 389.8 L 817.3 390.5 L 810.1 389.2 L 802.9 385.6 L 796.0 379.7 L 789.6 371.7" fill="none" stroke="#fff" stroke-width="1.3" stroke-linejoin="round"/>
<path d="M 827.1 376.9 L 820.7 374.6 L 814.6 370.2 L 809.1 363.7 L 804.4 355.4 L 800.8 345.3 L 798.5 333.8" fill="none" stroke="#000" stroke-width="3.4" stroke-linejoin="round"/>
<path d="M 827.1 376.9 L 820.7 374.6 L 814.6 370.2 L 809.1 363.7 L 804.4 355.4 L 800.8 345.3 L 798.5 333.8" fill="none" stroke="#fff" stroke-width="1.3" stroke-linejoin="round"/>
<path d="M 828.2 365.9 L 823.7 359.2 L 820.2 351.0 L 818.0 341.5 L 817.3 331.0 L 818.1 320.0 L 820.6 308.7" fill="none" stroke="#000" stroke-width="3.4" stroke-linejoin="round"/>
<path d="M 828.2 365.9 L 823.7 359.2 L 820.2 351.0 L 818.0 341.5 L 817.3 331.0 L 818.1 320.0 L 820.6 308.7" fill="none" stroke="#fff" stroke-width="1.3" stroke-linejoin="round"/>
<path d="M 833.4 357.5 L 832.1 348.6 L 832.3 339.2 L 834.1 329.6 L 837.5 320.4 L 842.4 311.8 L 848.8 304.3" fill="none" stroke="#000" stroke-width="3.4" stroke-linejoin="round"/>
<path d="M 833.4 357.5 L 832.1 348.6 L 832.3 339.2 L 834.1 329.6 L 837.5 320.4 L 842.4 311.8 L 848.8 304.3" fill="none" stroke="#fff" stroke-width="1.3" stroke-linejoin="round"/>
<path d="M 841.0 354.3 L 843.3 346.0 L 847.1 338.4 L 852.2 331.8 L 858.6 326.7 L 866.0 323.4 L 874.3 322.0" fill="none" stroke="#000" stroke-width="3.4" stroke-linejoin="round"/>
<path d="M 841.0 354.3 L 843.3 346.0 L 847.1 338.4 L 852.2 331.8 L 858.6 326.7 L 866.0 323.4 L 874.3 322.0" fill="none" stroke="#fff" stroke-width="1.3" stroke-linejoin="round"/>
<path d="M 848.6 357.4 L 853.7 352.3 L 859.8 348.9 L 866.6 347.4 L 873.9 348.1 L 881.4 351.0 L 888.8 356.3" fill="none" stroke="#000" stroke-width="3.4" stroke-linejoin="round"/>
<path d="M 848.6 357.4 L 853.7 352.3 L 859.8 348.9 L 866.6 347.4 L 873.9 348.1 L 881.4 351.0 L 888.8 356.3" fill="none" stroke="#fff" stroke-width="1.3" stroke-linejoin="round"/>
<path d="M 853.8 365.8 L 860.0 365.5 L 866.4 367.4 L 872.7 371.4 L 878.6 377.7 L 883.7 386.0 L 887.9 396.2" fill="none" stroke="#000" stroke-width="3.4" stroke-linejoin="round"/>
<path d="M 853.8 365.8 L 860.0 365.5 L 866.4 367.4 L 872.7 371.4 L 878.6 377.7 L 883.7 386.0 L 887.9 396.2" fill="none" stroke="#fff" stroke-width="1.3" stroke-linejoin="round"/>
<path d="M 858.5 308.6 L 862.3 311.0 L 865.9 313.9 L 869.3 317.1 L 872.5 320.8 L 875.5 324.8 L 878.2 329.2 L 880.7 333.8 L 882.9 338.8" fill="none" stroke="#fff" stroke-width="9"/>
<line x1="859.9" y1="305.2" x2="857.2" y2="312.1" stroke="#000" stroke-width="1.3"/>
<line x1="886.1" y1="336.9" x2="879.7" y2="340.6" stroke="#000" stroke-width="1.3"/>
<ellipse cx="841" cy="374" rx="12.48" ry="18.25" fill="#fff" stroke="#000" stroke-width="1.4"/>
<ellipse cx="842.5" cy="374" rx="9.88" ry="14.600000000000001" fill="#fff" stroke="#000" stroke-width="1.0"/>
<ellipse cx="838" cy="373" rx="1.5" ry="2" fill="#fff" stroke="#000" stroke-width="1.2"/>
<ellipse cx="926" cy="403" rx="61.5" ry="77" fill="#fff" stroke="#000" stroke-width="1.5"/>
<ellipse cx="928.5" cy="403.8" rx="57.5" ry="74" fill="#fff" stroke="#000" stroke-width="1.0"/>
<ellipse cx="930.0" cy="404.5" rx="54.0" ry="71.75" fill="#fff" stroke="#000" stroke-width="1.1"/>
<ellipse cx="932" cy="406" rx="48.5" ry="68.5" fill="#fff" stroke="#000" stroke-width="1.8"/>
<ellipse cx="933.8" cy="406.5" rx="42.7" ry="60.3" fill="none" stroke="#000" stroke-width="3.0"/>
<ellipse cx="934.6" cy="406.5" rx="42.7" ry="60.3" fill="none" stroke="#fff" stroke-width="0.9"/>
<ellipse cx="935.8" cy="407.0" rx="36.4" ry="51.4" fill="none" stroke="#000" stroke-width="3.0"/>
<ellipse cx="936.5" cy="407.0" rx="36.4" ry="51.4" fill="none" stroke="#fff" stroke-width="0.9"/>
<ellipse cx="937.7" cy="407.5" rx="30.1" ry="42.5" fill="none" stroke="#000" stroke-width="3.0"/>
<ellipse cx="938.5" cy="407.5" rx="30.1" ry="42.5" fill="none" stroke="#fff" stroke-width="0.9"/>
<ellipse cx="939.5" cy="408.0" rx="24.2" ry="34.2" fill="none" stroke="#000" stroke-width="3.0"/>
<ellipse cx="940.3" cy="408.0" rx="24.2" ry="34.2" fill="none" stroke="#fff" stroke-width="0.9"/>
<ellipse cx="941.1" cy="408.4" rx="18.9" ry="26.7" fill="none" stroke="#000" stroke-width="3.0"/>
<ellipse cx="941.9" cy="408.4" rx="18.9" ry="26.7" fill="none" stroke="#fff" stroke-width="0.9"/>
<ellipse cx="942.6" cy="408.8" rx="14.1" ry="19.9" fill="none" stroke="#000" stroke-width="3.0"/>
<ellipse cx="943.4" cy="408.8" rx="14.1" ry="19.9" fill="none" stroke="#fff" stroke-width="0.9"/>
<line x1="959.4" y1="412.2" x2="979.0" y2="415.4" stroke="#000" stroke-width="3.6"/>
<line x1="959.4" y1="412.2" x2="979.0" y2="415.4" stroke="#fff" stroke-width="1.4"/>
<line x1="957.4" y1="418.9" x2="971.5" y2="443.5" stroke="#000" stroke-width="3.6"/>
<line x1="957.4" y1="418.9" x2="971.5" y2="443.5" stroke="#fff" stroke-width="1.4"/>
<line x1="953.4" y1="423.8" x2="956.2" y2="464.1" stroke="#000" stroke-width="3.6"/>
<line x1="953.4" y1="423.8" x2="956.2" y2="464.1" stroke="#fff" stroke-width="1.4"/>
<line x1="948.1" y1="425.9" x2="936.0" y2="473.3" stroke="#000" stroke-width="3.6"/>
<line x1="948.1" y1="425.9" x2="936.0" y2="473.3" stroke="#fff" stroke-width="1.4"/>
<line x1="942.5" y1="425.0" x2="915.1" y2="469.1" stroke="#000" stroke-width="3.6"/>
<line x1="942.5" y1="425.0" x2="915.1" y2="469.1" stroke="#fff" stroke-width="1.4"/>
<line x1="937.9" y1="421.0" x2="897.5" y2="452.4" stroke="#000" stroke-width="3.6"/>
<line x1="937.9" y1="421.0" x2="897.5" y2="452.4" stroke="#fff" stroke-width="1.4"/>
<line x1="935.1" y1="414.9" x2="886.8" y2="426.5" stroke="#000" stroke-width="3.6"/>
<line x1="935.1" y1="414.9" x2="886.8" y2="426.5" stroke="#fff" stroke-width="1.4"/>
<line x1="934.6" y1="407.8" x2="885.0" y2="396.6" stroke="#000" stroke-width="3.6"/>
<line x1="934.6" y1="407.8" x2="885.0" y2="396.6" stroke="#fff" stroke-width="1.4"/>
<line x1="936.6" y1="401.1" x2="892.5" y2="368.5" stroke="#000" stroke-width="3.6"/>
<line x1="936.6" y1="401.1" x2="892.5" y2="368.5" stroke="#fff" stroke-width="1.4"/>
<line x1="940.6" y1="396.2" x2="907.8" y2="347.9" stroke="#000" stroke-width="3.6"/>
<line x1="940.6" y1="396.2" x2="907.8" y2="347.9" stroke="#fff" stroke-width="1.4"/>
<line x1="945.9" y1="394.1" x2="928.0" y2="338.7" stroke="#000" stroke-width="3.6"/>
<line x1="945.9" y1="394.1" x2="928.0" y2="338.7" stroke="#fff" stroke-width="1.4"/>
<line x1="951.5" y1="395.0" x2="948.9" y2="342.9" stroke="#000" stroke-width="3.6"/>
<line x1="951.5" y1="395.0" x2="948.9" y2="342.9" stroke="#fff" stroke-width="1.4"/>
<line x1="956.1" y1="399.0" x2="966.5" y2="359.6" stroke="#000" stroke-width="3.6"/>
<line x1="956.1" y1="399.0" x2="966.5" y2="359.6" stroke="#fff" stroke-width="1.4"/>
<line x1="958.9" y1="405.1" x2="977.2" y2="385.5" stroke="#000" stroke-width="3.6"/>
<line x1="958.9" y1="405.1" x2="977.2" y2="385.5" stroke="#fff" stroke-width="1.4"/>
<ellipse cx="947" cy="410" rx="12.5" ry="16" fill="#fff" stroke="#000" stroke-width="1.5"/>
<ellipse cx="948.5" cy="410.5" rx="9.375" ry="12.8" fill="#fff" stroke="#000" stroke-width="0.9"/>
<ellipse cx="894" cy="341" rx="3.4" ry="3.8" fill="#fff" stroke="#000" stroke-width="1.3"/>
<ellipse cx="894" cy="341" rx="1.4" ry="1.6" fill="#fff" stroke="#000" stroke-width="1.0"/>
<ellipse cx="956" cy="330.6" rx="3.4" ry="3.8" fill="#fff" stroke="#000" stroke-width="1.3"/>
<ellipse cx="956" cy="330.6" rx="1.4" ry="1.6" fill="#fff" stroke="#000" stroke-width="1.0"/>
<ellipse cx="894" cy="477.5" rx="3.4" ry="3.8" fill="#fff" stroke="#000" stroke-width="1.3"/>
<ellipse cx="894" cy="477.5" rx="1.4" ry="1.6" fill="#fff" stroke="#000" stroke-width="1.0"/>
<path d="M 981 413 L 1019 415 L 1019 455 L 981 443 Z" fill="#fff" stroke="#000" stroke-width="1.3"/>
<ellipse cx="1019" cy="435" rx="13.5" ry="20" fill="#fff" stroke="#000" stroke-width="1.4"/>
<ellipse cx="1020" cy="435" rx="10.8" ry="16.0" fill="#fff" stroke="#000" stroke-width="0.9"/>
<ellipse cx="1021" cy="436" rx="3.375" ry="5.0" fill="#fff" stroke="#000" stroke-width="1.1"/>
<ellipse cx="1025.4125" cy="418.5455173280957" rx="1.5" ry="1.7" fill="#fff" stroke="#000" stroke-width="1"/>
<ellipse cx="1025.4125" cy="451.4544826719043" rx="1.5" ry="1.7" fill="#fff" stroke="#000" stroke-width="1"/>
<ellipse cx="1006.175" cy="435.0" rx="1.5" ry="1.7" fill="#fff" stroke="#000" stroke-width="1"/>
<polyline points="1005,453 1002.5,465 1007.5,472 1007.5,474" fill="none" stroke="#000" stroke-width="1.4" stroke-linejoin="round"/>
<polygon points="1004,474 1011,473 1012,479.5 1005,480.5" fill="#fff" stroke="#000" stroke-width="1.2" stroke-linejoin="round" />
<line x1="946" y1="411" x2="982" y2="420" stroke="#000" stroke-width="1.1"/>
<line x1="950" y1="393" x2="1012" y2="410" stroke="#000" stroke-width="1.1"/>
<line x1="1016" y1="414" x2="1036" y2="421" stroke="#000" stroke-width="1.1"/>
<polygon points="1035,420 1042,420 1043,426 1036,426" fill="#fff" stroke="#000" stroke-width="1.1" stroke-linejoin="round" />
<path d="M 572 497 Q 598 503 614 514 Q 631 528 633 554 Q 634 572 627 580" fill="none" stroke="#000" stroke-width="14.9" stroke-linecap="butt" stroke-linejoin="round" />
<path d="M 572 497 Q 598 503 614 514 Q 631 528 633 554 Q 634 572 627 580" fill="none" stroke="#fff" stroke-width="12.5" stroke-linecap="butt" stroke-linejoin="round"/>
<path d="M 578 496 Q 600 501 614 511 Q 628 524 630 548" fill="none" stroke="#333" stroke-width="1" stroke-dasharray="1.5,1.5"/>
<path d="M 576 502 Q 598 508 612 518 Q 626 532 627 560" fill="none" stroke="#555" stroke-width="0.8" stroke-dasharray="1,2"/>
<path d="M 626 582 Q 616 592 602 596 L 590 598" fill="none" stroke="#000" stroke-width="9.4" stroke-linecap="butt" stroke-linejoin="round" />
<path d="M 626 582 Q 616 592 602 596 L 590 598" fill="none" stroke="#fff" stroke-width="7" stroke-linecap="butt" stroke-linejoin="round"/>
<polygon points="619,578 629,574 634,585 624,589" fill="#fff" stroke="#000" stroke-width="1.3" stroke-linejoin="round" />
<line x1="622" y1="577" x2="627" y2="588" stroke="#000" stroke-width="1"/>
<polygon points="588.5,601.2 584.0,604.5 579.5,601.2 579.5,594.8 584.0,591.5 588.5,594.8" fill="#fff" stroke="#000" stroke-width="1.4" stroke-linejoin="round" />
<ellipse cx="585.5" cy="598" rx="2.9250000000000003" ry="3.575" fill="#fff" stroke="#000" stroke-width="1.1"/>
<polygon points="566.5,498.2 562.0,501.5 557.5,498.2 557.5,491.8 562.0,488.5 566.5,491.8" fill="#fff" stroke="#000" stroke-width="1.4" stroke-linejoin="round" />
<ellipse cx="563.5" cy="495" rx="2.9250000000000003" ry="3.575" fill="#fff" stroke="#000" stroke-width="1.1"/>
<polygon points="566,491 574,491 575,502 567,502" fill="#fff" stroke="#000" stroke-width="1.3" stroke-linejoin="round" />
<rect x="863.5" y="27.5" width="164.5" height="173" fill="#fff" stroke="#000" stroke-width="1.5"/>
<path d="M 926.5 72.5 L 932 80 L 968 82 L 978.6 74.6 L 978.6 72 Q 976 58 958.5 46 L 948 45 L 932 45.4 Z" fill="#fff" stroke="#000" stroke-width="1.3"/>
<path d="M 930 74 Q 945 70 950 58 Q 955 50 958 46" fill="none" stroke="#000" stroke-width="1"/>
<polyline points="928,76 933,79.5 968,80 977,74" fill="none" stroke="#000" stroke-width="0.9" stroke-linejoin="round"/>
<ellipse cx="953" cy="44" rx="5" ry="2.8" fill="#fff" stroke="#000" stroke-width="1.2"/>
<ellipse cx="953" cy="43.5" rx="2.5" ry="1.3" fill="#fff" stroke="#000" stroke-width="0.9"/>
<path d="M 960 77 L 960 70 Q 964 60 968 70 L 968 77" fill="#fff" stroke="#000" stroke-width="1.1"/>
<ellipse cx="964" cy="76.5" rx="4" ry="1.6" fill="#fff" stroke="#000" stroke-width="1.1"/>
<ellipse cx="925.5" cy="58" rx="9.5" ry="14.3" fill="#fff" stroke="#000" stroke-width="1.5"/>
<ellipse cx="925.5" cy="58" rx="6.4" ry="10.9" fill="#fff" stroke="#000" stroke-width="1.2"/>
<path d="M 927 44 Q 934 48 935 58 Q 934 68 928 72" fill="none" stroke="#000" stroke-width="1"/>
<path d="M 924.4 96 L 950 86.3 L 970 90 L 978.6 99 L 968 109.7 L 932 104.4 Z" fill="#fff" stroke="#000" stroke-width="1.5" stroke-linejoin="round"/>
<polyline points="925,99 932,106 968,111 978,101" fill="none" stroke="#000" stroke-width="0.9" stroke-linejoin="round"/>
<ellipse cx="952" cy="98" rx="17" ry="5.3" fill="#fff" stroke="#000" stroke-width="1.4"/>
<ellipse cx="929.8" cy="96.4" rx="1.6" ry="1.1" fill="#fff" stroke="#000" stroke-width="1"/>
<ellipse cx="950.5" cy="88" rx="1.6" ry="1.1" fill="#fff" stroke="#000" stroke-width="1"/>
<ellipse cx="966" cy="105" rx="1.6" ry="1.1" fill="#fff" stroke="#000" stroke-width="1"/>
<path d="M 946 113 L 948 111 L 957 111 L 959 113 L 958 117 L 947 117 Z" fill="#fff" stroke="#000" stroke-width="1.2"/>
<polygon points="948.5,117 956.5,117 956,124 949,124" fill="#fff" stroke="#000" stroke-width="1.2" stroke-linejoin="round" />
<line x1="949" y1="120" x2="956" y2="120" stroke="#000" stroke-width="0.8"/>
<line x1="952.5" y1="124" x2="952.5" y2="131" stroke="#000" stroke-width="1.6"/>
<path d="M 927 137 Q 930 128 945 126 Q 965 124 979 130 L 979 146 L 970 150 L 940 150 L 927 146 Z" fill="#fff" stroke="#000" stroke-width="1.3"/>
<polyline points="927,137 940,141 970,141 979,136" fill="none" stroke="#000" stroke-width="1.0" stroke-linejoin="round"/>
<ellipse cx="953" cy="133" rx="15" ry="4.5" fill="none" stroke="#000" stroke-width="1"/>
<ellipse cx="952" cy="134" rx="5.5" ry="2.8" fill="#fff" stroke="#000" stroke-width="2.2"/>
<ellipse cx="952" cy="134" rx="2.4" ry="1.2" fill="#fff" stroke="#000" stroke-width="1"/>
<path d="M 925 150 L 979 150 L 979 165 L 968 172 L 940 176 L 925 170 Z" fill="#fff" stroke="#000" stroke-width="1.2"/>
<polyline points="940,150 940,160 970,160 970,150" fill="none" stroke="#000" stroke-width="1.0" stroke-linejoin="round"/>
<path d="M 893 155 L 915 152 Q 928 150 934 158 L 934 172 Q 928 182 915 183 L 893 184 Z" fill="#fff" stroke="#000" stroke-width="1.3"/>
<path d="M 912 153 Q 920 160 918 183" fill="none" stroke="#000" stroke-width="1"/>
<ellipse cx="893" cy="169.5" rx="9.5" ry="14" fill="#fff" stroke="#000" stroke-width="1.6"/>
<ellipse cx="893" cy="169.5" rx="6.5" ry="10.5" fill="#fff" stroke="#000" stroke-width="1.2"/>
<path d="M 968 158 L 1000 156 L 1000 186 L 975 186 Q 966 178 968 158 Z" fill="#fff" stroke="#000" stroke-width="1.3"/>
<ellipse cx="1000" cy="171" rx="5" ry="15" fill="#fff" stroke="#000" stroke-width="1.5"/>
<ellipse cx="1001" cy="171" rx="2.6" ry="12" fill="#fff" stroke="#000" stroke-width="1.0"/>
<path d="M 980 158 Q 990 170 985 186" fill="none" stroke="#000" stroke-width="1"/>
<ellipse cx="934" cy="154" rx="3.5" ry="4.5" fill="#fff" stroke="#000" stroke-width="1.6"/>
<ellipse cx="934" cy="154" rx="1.6" ry="2.2" fill="#333" stroke="#000" stroke-width="1"/>
<ellipse cx="975.7" cy="152.3" rx="3.5" ry="4.5" fill="#fff" stroke="#000" stroke-width="1.6"/>
<ellipse cx="975.7" cy="152.3" rx="1.6" ry="2.2" fill="#333" stroke="#000" stroke-width="1"/>
<path d="M 903 200 Q 908 184 925 180 Q 945 178 955 190 Q 960 195 960 200" fill="#fff" stroke="#000" stroke-width="1.2"/>
<path d="M 912 200 Q 918 188 932 187 Q 945 188 950 200" fill="none" stroke="#000" stroke-width="1"/>
<path d="M 948 175 L 960 173 L 962 178 L 950 181 Z" fill="#fff" stroke="#000" stroke-width="1"/>
<ellipse cx="954" cy="177" rx="1.5" ry="1.2" fill="#fff" stroke="#000" stroke-width="0.9"/>
<path d="M 960 200 Q 968 190 985 188 Q 995 190 998 200" fill="#fff" stroke="#000" stroke-width="1.1"/>
<rect x="832" y="566" width="199" height="147" fill="#fff" stroke="#000" stroke-width="1.5"/>
<path d="M 847.6 630 L 860 625 L 866 622 L 866 606 Q 868 598 880 599 L 895 601 Q 905 604 912 608 L 917 607 L 928 602 L 939 606.5 L 946 624 L 955.5 635 L 954 642 L 936 649 L 880 672.5 L 858 670 L 853.8 661.5 L 852 648 L 853 640 Z" fill="#fff" stroke="#000" stroke-width="1.4" stroke-linejoin="round"/>
<ellipse cx="881" cy="604" rx="14" ry="4.5" fill="#fff" stroke="#000" stroke-width="1.3"/>
<ellipse cx="883" cy="604" rx="7.5" ry="2.6" fill="#fff" stroke="#000" stroke-width="1.6"/>
<polyline points="868,607 872,618 880,622 895,620 910,612" fill="none" stroke="#000" stroke-width="1.0" stroke-linejoin="round"/>
<polyline points="881,626 933.5,621.6" fill="none" stroke="#000" stroke-width="1.1" stroke-linejoin="round"/>
<polyline points="885,648 929,641" fill="none" stroke="#000" stroke-width="1.1" stroke-linejoin="round"/>
<polyline points="900,622 905,630 920,628 935,622" fill="none" stroke="#000" stroke-width="0.9" stroke-linejoin="round"/>
<path d="M 928 604 Q 935 610 938 620 L 942 632 L 946 640" fill="none" stroke="#000" stroke-width="1"/>
<path d="M 870 622 Q 880 632 882 645 Q 882 655 876 668" fill="none" stroke="#000" stroke-width="1.1"/>
<path d="M 866 630 Q 858 636 860 648 Q 863 656 870 655" fill="none" stroke="#000" stroke-width="1"/>
<ellipse cx="872" cy="654" rx="3" ry="2.5" fill="#fff" stroke="#000" stroke-width="1.2"/>
<ellipse cx="871" cy="630" rx="1.8" ry="1.8" fill="#fff" stroke="#000" stroke-width="1"/>
<polyline points="946,624 955,630 958,640 954,642" fill="none" stroke="#000" stroke-width="1.0" stroke-linejoin="round"/>
<path d="M 915 646 L 928 643 Q 932 640 930 636" fill="none" stroke="#000" stroke-width="1.1"/>
<ellipse cx="891" cy="661.5" rx="7" ry="3.6" fill="#fff" stroke="#000" stroke-width="1.8"/>
<ellipse cx="891" cy="661.5" rx="4" ry="1.8" fill="#fff" stroke="#000" stroke-width="1"/>
<ellipse cx="917" cy="654.6" rx="7" ry="3.6" fill="#fff" stroke="#000" stroke-width="1.8"/>
<ellipse cx="917" cy="654.6" rx="4" ry="1.8" fill="#fff" stroke="#000" stroke-width="1"/>
<ellipse cx="858" cy="666" rx="1.8" ry="1.5" fill="#fff" stroke="#000" stroke-width="1"/>
<ellipse cx="952.8" cy="654.6" rx="4.5" ry="4.8" fill="#fff" stroke="#000" stroke-width="1.3"/>
<path d="M 951.0 661.0 L 961.0 659.5" stroke="#000" stroke-width="1.3"/>
<path d="M 952.6 663.2 L 962.6 661.7" stroke="#000" stroke-width="1.3"/>
<path d="M 954.2 665.4 L 964.2 663.9" stroke="#000" stroke-width="1.3"/>
<path d="M 955.8 667.6 L 965.8 666.1" stroke="#000" stroke-width="1.3"/>
<path d="M 957.4 669.8 L 967.4 668.3" stroke="#000" stroke-width="1.3"/>
<path d="M 959.0 672.0 L 969.0 670.5" stroke="#000" stroke-width="1.3"/>
<path d="M 960.6 674.2 L 970.6 672.7" stroke="#000" stroke-width="1.3"/>
<line x1="951" y1="661" x2="960" y2="677" stroke="#000" stroke-width="1.1"/>
<line x1="961" y1="659.5" x2="970" y2="675" stroke="#000" stroke-width="1.1"/>
<ellipse cx="966.5" cy="681.5" rx="6" ry="3.5" fill="#fff" stroke="#000" stroke-width="2.2"/>
<line x1="965" y1="678.5" x2="966" y2="684" stroke="#000" stroke-width="1.2"/>
<ellipse cx="970.7" cy="691" rx="7" ry="3.5" fill="#fff" stroke="#000" stroke-width="2.2"/>
<line x1="970" y1="688" x2="971" y2="694" stroke="#000" stroke-width="1.2"/>
<polyline points="887,608 893,614 905,612 915,606" fill="none" stroke="#000" stroke-width="1.0" stroke-linejoin="round"/>
<path d="M 919 608 Q 925 602 931 606 L 934 614" fill="none" stroke="#000" stroke-width="1.1"/>
<ellipse cx="922" cy="610" rx="2.5" ry="2" fill="#fff" stroke="#000" stroke-width="1.1"/>
<polyline points="935,618 941,630 944,638" fill="none" stroke="#000" stroke-width="1.0" stroke-linejoin="round"/>
<polyline points="938,616 946,634" fill="none" stroke="#000" stroke-width="0.9" stroke-linejoin="round"/>
<polyline points="905,628 906,640" fill="none" stroke="#000" stroke-width="0.8" stroke-linejoin="round"/>
<polyline points="912,627 913,636" fill="none" stroke="#000" stroke-width="0.8" stroke-linejoin="round"/>
<path d="M 917 645 L 930 640 Q 934 636 934 632" fill="none" stroke="#000" stroke-width="1.6"/>
<polyline points="860,626 856,634 855,648 858,660" fill="none" stroke="#000" stroke-width="1.0" stroke-linejoin="round"/>
<path d="M 862 640 Q 866 636 870 640 L 872 652" fill="none" stroke="#000" stroke-width="1.0"/>
<polyline points="880,666 896,662 910,657 935,650" fill="none" stroke="#000" stroke-width="0.9" stroke-linejoin="round"/>
<polyline points="947,622 950,630 952,642" fill="none" stroke="#000" stroke-width="0.9" stroke-linejoin="round"/>
<line x1="956" y1="640" x2="957" y2="646" stroke="#000" stroke-width="1.0"/>
<line x1="86" y1="553.6" x2="101" y2="559" stroke="#000" stroke-width="1.1"/>
<line x1="108" y1="562" x2="274.5" y2="619" stroke="#000" stroke-width="1.1"/>
<line x1="121.8" y1="579.5" x2="142" y2="586" stroke="#000" stroke-width="1.1"/>
<polygon points="68.4,548.0 64.5,550.5 60.6,548.0 60.6,543.0 64.5,540.5 68.4,543.0" fill="#fff" stroke="#000" stroke-width="1.3" stroke-linejoin="round" />
<ellipse cx="65.5" cy="545.5" rx="2.25" ry="2.475" fill="#fff" stroke="#000" stroke-width="1"/>
<ellipse cx="75.5" cy="549.5" rx="3.8" ry="4.8" fill="#fff" stroke="#000" stroke-width="2.0"/>
<ellipse cx="75.5" cy="549.5" rx="1.71" ry="2.16" fill="#fff" stroke="#000" stroke-width="1.0"/>
<ellipse cx="83.6" cy="552" rx="3" ry="4" fill="#fff" stroke="#000" stroke-width="1.8"/>
<ellipse cx="83.6" cy="552" rx="1.35" ry="1.8" fill="#fff" stroke="#000" stroke-width="1.0"/>
<path d="M 93 593 Q 98 590 103 593 L 104 602 Q 99 606 93 603 Z" fill="#fff" stroke="#000" stroke-width="1.3"/>
<ellipse cx="100" cy="599" rx="2.2" ry="2.5" fill="#fff" stroke="#000" stroke-width="1"/>
<polyline points="105.5,575 105.5,603 113.6,603" fill="none" stroke="#000" stroke-width="1.1" stroke-linejoin="round"/>
<ellipse cx="142" cy="586" rx="4" ry="5" fill="#fff" stroke="#000" stroke-width="1.4"/>
<ellipse cx="142" cy="586" rx="1.8" ry="2.25" fill="#fff" stroke="#000" stroke-width="1.0"/>
<ellipse cx="151.8" cy="590.5" rx="3" ry="3.8" fill="#fff" stroke="#000" stroke-width="1.6"/>
<ellipse cx="151.8" cy="590.5" rx="1.2000000000000002" ry="1.52" fill="#000" stroke="#000" stroke-width="1.0"/>
<line x1="160" y1="593" x2="181.8" y2="601.4" stroke="#000" stroke-width="6"/>
<line x1="160" y1="593" x2="181.8" y2="601.4" stroke="#fff" stroke-width="3.6"/>
<ellipse cx="181.8" cy="601.4" rx="4" ry="4.4" fill="#fff" stroke="#000" stroke-width="1.3"/>
<polygon points="199.5,597 214,594 216,603 201,606" fill="#fff" stroke="#000" stroke-width="1.3" stroke-linejoin="round" />
<polyline points="217,589 217,603 231,603 231,589" fill="none" stroke="#000" stroke-width="1.1" stroke-linejoin="round"/>
<ellipse cx="252.7" cy="612" rx="4" ry="5" fill="#fff" stroke="#000" stroke-width="1.4"/>
<ellipse cx="252.7" cy="612" rx="1.8" ry="2.25" fill="#fff" stroke="#000" stroke-width="1.0"/>
<line x1="261" y1="615" x2="274.5" y2="619.6" stroke="#000" stroke-width="5.5"/>
<line x1="261" y1="615" x2="274.5" y2="619.6" stroke="#fff" stroke-width="3.1"/>
<ellipse cx="274.5" cy="619.6" rx="3.5" ry="3.8500000000000005" fill="#fff" stroke="#000" stroke-width="1.3"/>
<path d="M 145 364 L 154 362 L 157 372 L 148 375 Z" fill="#fff" stroke="#000" stroke-width="1.3"/>
<line x1="149" y1="364" x2="150" y2="374" stroke="#000" stroke-width="1"/>
<line x1="152" y1="363" x2="153" y2="373" stroke="#000" stroke-width="1"/>
<line x1="157" y1="371" x2="176" y2="380" stroke="#000" stroke-width="1.0"/>
<polyline points="164.7,428 164.7,331 185,339.5" fill="none" stroke="#000" stroke-width="1.1" stroke-linejoin="round"/>
<polyline points="196,408.5 196,359.7 215.7,368" fill="none" stroke="#000" stroke-width="1.1" stroke-linejoin="round"/>
<polygon points="227.4,376.1 221.8,379.6 216.2,376.1 216.2,368.9 221.8,365.4 227.4,368.9" fill="#fff" stroke="#000" stroke-width="1.3" stroke-linejoin="round" />
<ellipse cx="222.8" cy="372.5" rx="3.25" ry="3.575" fill="#fff" stroke="#000" stroke-width="1"/>
<ellipse cx="217.6" cy="398" rx="3.5" ry="4.5" fill="#fff" stroke="#000" stroke-width="1.4"/>
<ellipse cx="217.6" cy="398" rx="1.575" ry="2.025" fill="#fff" stroke="#000" stroke-width="1.0"/>
<ellipse cx="226.5" cy="400.5" rx="2.8" ry="3.5" fill="#fff" stroke="#000" stroke-width="1.6"/>
<ellipse cx="226.5" cy="400.5" rx="1.1199999999999999" ry="1.4000000000000001" fill="#000" stroke="#000" stroke-width="1.0"/>
<line x1="236.7" y1="403" x2="254.5" y2="412" stroke="#000" stroke-width="6"/>
<line x1="236.7" y1="403" x2="254.5" y2="412" stroke="#fff" stroke-width="3.6"/>
<ellipse cx="254.5" cy="412" rx="4" ry="4.4" fill="#fff" stroke="#000" stroke-width="1.3"/>
<ellipse cx="977.5" cy="341.4" rx="4" ry="5" fill="#fff" stroke="#000" stroke-width="1.4"/>
<ellipse cx="977.5" cy="341.4" rx="1.8" ry="2.25" fill="#fff" stroke="#000" stroke-width="1.0"/>
<ellipse cx="988" cy="343.5" rx="2.8" ry="3.4" fill="#fff" stroke="#000" stroke-width="1.6"/>
<ellipse cx="988" cy="343.5" rx="1.1199999999999999" ry="1.36" fill="#000" stroke="#000" stroke-width="1.0"/>
<line x1="994" y1="346.5" x2="1007.5" y2="351" stroke="#000" stroke-width="5.5"/>
<line x1="994" y1="346.5" x2="1007.5" y2="351" stroke="#fff" stroke-width="3.1"/>
<ellipse cx="1007.5" cy="351" rx="3.5" ry="3.8500000000000005" fill="#fff" stroke="#000" stroke-width="1.3"/>
<ellipse cx="955" cy="328.5" rx="3.5" ry="3.5" fill="#fff" stroke="#000" stroke-width="1.3"/>
<ellipse cx="955" cy="328.5" rx="1.575" ry="1.575" fill="#fff" stroke="#000" stroke-width="1.0"/>
<ellipse cx="476" cy="518" rx="4.5" ry="5.5" fill="#fff" stroke="#000" stroke-width="1.4"/>
<ellipse cx="476" cy="518" rx="2.025" ry="2.475" fill="#fff" stroke="#000" stroke-width="1.0"/>
<ellipse cx="483" cy="521" rx="2.8" ry="3.6" fill="#fff" stroke="#000" stroke-width="1.6"/>
<ellipse cx="483" cy="521" rx="1.1199999999999999" ry="1.4400000000000002" fill="#000" stroke="#000" stroke-width="1.0"/>
<line x1="490" y1="524" x2="507" y2="530" stroke="#000" stroke-width="5.5"/>
<line x1="490" y1="524" x2="507" y2="530" stroke="#fff" stroke-width="3.1"/>
<ellipse cx="507" cy="530" rx="3.5" ry="3.8500000000000005" fill="#fff" stroke="#000" stroke-width="1.3"/>
<line x1="201.8" y1="150.2" x2="240" y2="177.3" stroke="#000" stroke-width="1.1"/>
<line x1="165.2" y1="205.9" x2="241.6" y2="210.7" stroke="#000" stroke-width="1.1"/>
<line x1="185" y1="225" x2="243.7" y2="245" stroke="#000" stroke-width="1.1"/>
<line x1="117.5" y1="213.7" x2="162.5" y2="249" stroke="#000" stroke-width="1.1"/>
<line x1="158" y1="311" x2="153" y2="362" stroke="#000" stroke-width="1.1"/>
<line x1="497.5" y1="213.7" x2="482.5" y2="243.7" stroke="#000" stroke-width="1.1"/>
<line x1="341.8" y1="323.6" x2="323.6" y2="350" stroke="#000" stroke-width="1.1"/>
<line x1="462.5" y1="321" x2="442.5" y2="347.5" stroke="#000" stroke-width="1.1"/>
<line x1="438.7" y1="353.7" x2="516" y2="415" stroke="#000" stroke-width="1.1"/>
<line x1="236" y1="357" x2="217.6" y2="394" stroke="#000" stroke-width="1.1"/>
<line x1="255.8" y1="367.4" x2="227.8" y2="398" stroke="#000" stroke-width="1.1"/>
<line x1="282.5" y1="380" x2="253" y2="399" stroke="#000" stroke-width="1.1"/>
<line x1="343" y1="430" x2="334" y2="403" stroke="#000" stroke-width="1.1"/>
<line x1="70" y1="432.5" x2="100" y2="429.5" stroke="#000" stroke-width="1.1"/>
<line x1="67" y1="516.5" x2="67" y2="542" stroke="#000" stroke-width="1.1"/>
<line x1="68.5" y1="578" x2="76" y2="554" stroke="#000" stroke-width="1.1"/>
<line x1="79" y1="596" x2="84.4" y2="557" stroke="#000" stroke-width="1.1"/>
<line x1="81" y1="634" x2="96" y2="602.7" stroke="#000" stroke-width="1.1"/>
<line x1="119" y1="613.6" x2="141.4" y2="590.5" stroke="#000" stroke-width="1.1"/>
<line x1="138" y1="623" x2="150.4" y2="594.5" stroke="#000" stroke-width="1.1"/>
<line x1="166.8" y1="631.4" x2="171" y2="601.4" stroke="#000" stroke-width="1.1"/>
<line x1="199.5" y1="639.5" x2="203.6" y2="606.8" stroke="#000" stroke-width="1.1"/>
<line x1="222.7" y1="647.7" x2="232" y2="608" stroke="#000" stroke-width="1.1"/>
<line x1="251" y1="654.5" x2="251" y2="616" stroke="#000" stroke-width="1.1"/>
<line x1="280" y1="666.8" x2="270.4" y2="621.8" stroke="#000" stroke-width="1.1"/>
<line x1="365.3" y1="688" x2="342" y2="622.5" stroke="#000" stroke-width="1.1"/>
<line x1="365.3" y1="688" x2="379" y2="649" stroke="#000" stroke-width="1.1"/>
<line x1="365.3" y1="688" x2="495" y2="622.5" stroke="#000" stroke-width="1.1"/>
<line x1="513.7" y1="514.7" x2="482.5" y2="521" stroke="#000" stroke-width="1.1"/>
<line x1="526" y1="541" x2="503" y2="530" stroke="#000" stroke-width="1.1"/>
<line x1="496.6" y1="553.7" x2="477.8" y2="522.5" stroke="#000" stroke-width="1.1"/>
<line x1="644" y1="496" x2="625" y2="512" stroke="#000" stroke-width="1.1"/>
<line x1="639" y1="424" x2="648.7" y2="368" stroke="#000" stroke-width="1.1"/>
<line x1="576" y1="239" x2="564" y2="286" stroke="#000" stroke-width="1.1"/>
<line x1="546" y1="258" x2="540" y2="294" stroke="#000" stroke-width="1.1"/>
<line x1="573.4" y1="332" x2="570" y2="393" stroke="#000" stroke-width="1.1"/>
<line x1="545.6" y1="344" x2="544" y2="388" stroke="#000" stroke-width="1.1"/>
<line x1="729" y1="182" x2="697.5" y2="206" stroke="#000" stroke-width="1.1"/>
<line x1="802.4" y1="208" x2="795" y2="242" stroke="#000" stroke-width="1.1"/>
<line x1="836" y1="227" x2="813.7" y2="253" stroke="#000" stroke-width="1.1"/>
<line x1="986" y1="307.4" x2="980.5" y2="335.5" stroke="#000" stroke-width="1.1"/>
<line x1="1008.6" y1="316.8" x2="990" y2="341" stroke="#000" stroke-width="1.1"/>
<line x1="1031" y1="326" x2="1008.6" y2="345" stroke="#000" stroke-width="1.1"/>
<line x1="897.5" y1="83" x2="926" y2="96" stroke="#000" stroke-width="1.1"/>
<line x1="898.7" y1="108" x2="947.4" y2="117.4" stroke="#000" stroke-width="1.1"/>
<line x1="898.7" y1="131.6" x2="947.4" y2="133.5" stroke="#000" stroke-width="1.1"/>
<line x1="1004.8" y1="635.7" x2="973" y2="677" stroke="#000" stroke-width="1.1"/>
<line x1="869" y1="514" x2="834" y2="449" stroke="#000" stroke-width="1.1"/>
<line x1="869" y1="514" x2="880" y2="470.5" stroke="#000" stroke-width="1.1"/>
<line x1="869" y1="514" x2="991" y2="446.5" stroke="#000" stroke-width="1.1"/>
<g class="lb">
<text x="243.7" y="186">30</text>
<text x="243.7" y="218">29</text>
<text x="243.7" y="253">28</text>
<text x="164.2" y="260">27</text>
<text x="153.7" y="307">18</text>
<text x="493.2" y="210.7">19</text>
<text x="333.2" y="320.5">22</text>
<text x="456.2" y="317">20</text>
<text x="568.2" y="236">26</text>
<text x="539.2" y="253">25</text>
<text x="566.2" y="330">25</text>
<text x="539.2" y="340">26</text>
<text x="729.2" y="180">2</text>
<text x="799.7" y="206">3</text>
<text x="837.2" y="225">4</text>
<text x="979.7" y="305.5">8</text>
<text x="1005.9000000000001" y="315">7</text>
<text x="1030.2" y="324">6</text>
<text x="874.2" y="89">31</text>
<text x="874.2" y="112.6">32</text>
<text x="874.2" y="136">33</text>
<text x="232.2" y="352">13</text>
<text x="257.2" y="365">12</text>
<text x="286.8" y="377.6">17</text>
<text x="345.2" y="446">24</text>
<text x="58.7" y="437">1</text>
<text x="60.2" y="515">16</text>
<text x="56.2" y="590.5">15</text>
<text x="67.8" y="610">10</text>
<text x="103.2" y="624">13</text>
<text x="64.2" y="648">14</text>
<text x="127.8" y="636">12</text>
<text x="156.2" y="643">11</text>
<text x="191.89999999999998" y="652.4">3</text>
<text x="215.2" y="660.5">4</text>
<text x="241.2" y="668">10</text>
<text x="275.2" y="680">9</text>
<text x="356.7" y="703.7">5</text>
<text x="517.6" y="513.7">7</text>
<text x="527.2" y="548">6</text>
<text x="495.8" y="568">8</text>
<text x="648.2" y="495">23</text>
<text x="628.2" y="438.7">21</text>
<text x="861.7" y="529.5">5</text>
<text x="1000.8000000000001" y="630.4">34</text>
</g>
</svg>
<svg class="wm" width="1100" height="800" viewBox="0 0 1100 800">
<g fill="#f8dcde" font-size="167">
<text transform="translate(81.7,427.5) scale(0.754,1)">s</text>
<text transform="translate(168.9,427.5) scale(0.893,1)">c</text>
<text transform="translate(257.1,427.5) scale(0.867,1)">u</text>
<text transform="translate(354.7,427.5) scale(0.928,1)">d</text>
<text transform="translate(447.5,427.5) scale(0.955,1)">e</text>
<text transform="translate(539.8,427.5) scale(0.900,1)">r</text>
<text transform="translate(599.0,427.5) scale(0.880,1)">i</text>
<text transform="translate(638.4,427.5) scale(0.801,1)">a</text>
</g><g fill="#e6e6e6" font-size="48">
<text x="82.0" y="492">c</text>
<text x="164.0" y="492">a</text>
<text x="245.0" y="492">r</text>
<text x="387.0" y="492">p</text>
<text x="462.0" y="492">a</text>
<text x="558.0" y="492">r</text>
<text x="628.0" y="492">t</text>
<text x="699.0" y="492">s</text>
</g>
<g fill="#dedede">
<polygon points="746,313 784,321 791,351 753,343"/>
<polygon points="784,296 818,303 824,330 790,323"/>
<polygon points="757,383 794,391 800,419 763,411"/>
<polygon points="791,351 826,359 833,389 798,381"/>
<polygon points="852,318 887,326 893,354 858,346"/>
<polygon points="817,442 863,452 871,484 825,474"/>
<polygon points="900,462 941,471 946,490 905,481"/>
<polygon points="962,437 1000,445 1008,482 970,474"/>
<polygon points="850,399 873,404 880,436 857,431"/>
</g>
</svg>
</div></body></html>
